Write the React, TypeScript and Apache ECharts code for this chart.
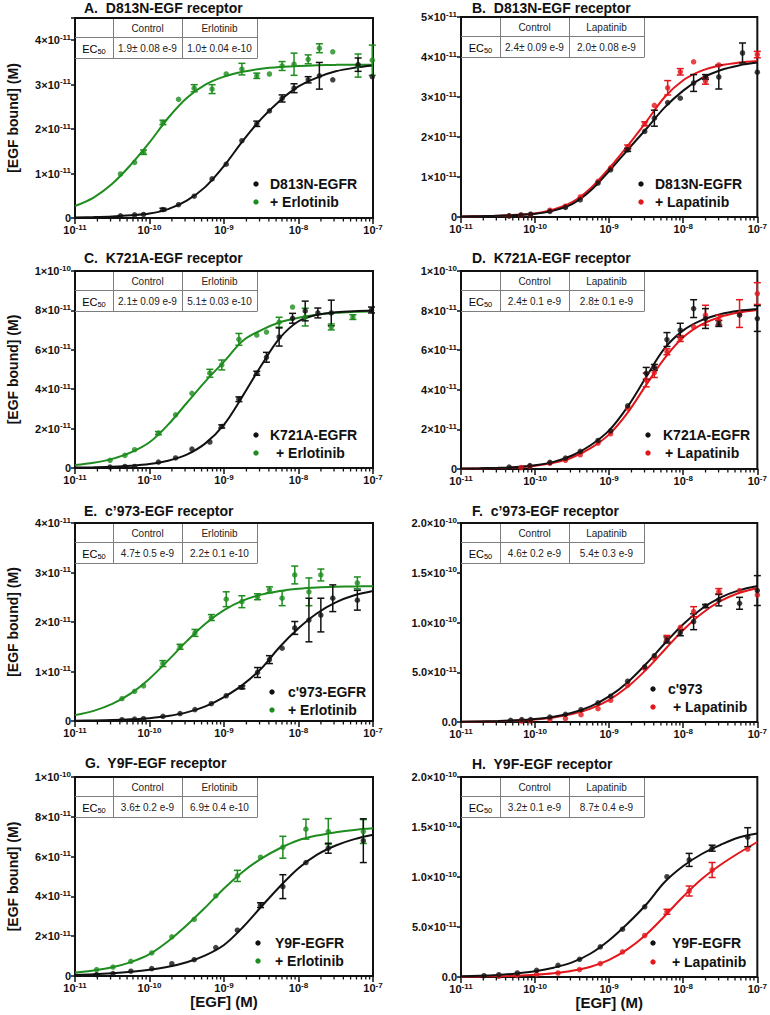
import React, { useEffect, useRef } from "react";
import * as echarts from "echarts";

const FONT = "'Liberation Sans', Arial, Helvetica, sans-serif";
const INK = "#111111";
const GREEN = "#1e8c1e";
const RED = "#e3161b";

// ---------- texts ----------
const TITLES = [
  "A.  D813N-EGF receptor",
  "B.  D813N-EGF receptor",
  "C.  K721A-EGF receptor",
  "D.  K721A-EGF receptor",
  "E.  c\u2019973-EGF receptor",
  "F.  c\u2019973-EGF receptor",
  "G.  Y9F-EGF receptor",
  "H.  Y9F-EGF receptor",
];
const CONTROL_NAMES = ["D813N-EGFR", "D813N-EGFR", "K721A-EGFR", "K721A-EGFR", "c'973-EGFR", "c'973", "Y9F-EGFR", "Y9F-EGFR"];
const DRUGS = ["Erlotinib", "Lapatinib", "Erlotinib", "Lapatinib", "Erlotinib", "Lapatinib", "Erlotinib", "Lapatinib"];
const EC50_CONTROL = ["1.9\u00b1 0.08 e-9", "2.4\u00b1 0.09 e-9", "2.1\u00b1 0.09 e-9", "2.4\u00b1 0.1 e-9", "4.7\u00b1 0.5 e-9", "4.6\u00b1 0.2 e-9", "3.6\u00b1 0.2 e-9", "3.2\u00b1 0.1 e-9"];
const EC50_DRUG = ["1.0\u00b1 0.04 e-10", "2.0\u00b1 0.08 e-9", "5.1\u00b1 0.03 e-10", "2.8\u00b1 0.1 e-9", "2.2\u00b1 0.1 e-10", "5.4\u00b1 0.3 e-9", "6.9\u00b1 0.4 e-10", "8.7\u00b1 0.4 e-9"];

// ---------- axes (x: log10 [EGF] M, y: EGF bound in pM) ----------
const X_MIN = -11;
const X_MAX = -7;
const Y_MAX = [45, 50, 100, 100, 40, 200, 100, 200];
const Y_STEP = [10, 10, 20, 20, 10, 50, 20, 50];
const Y_DECIMAL = [false, false, false, false, false, true, false, true];

// ---------- fitted curves, read at log10[EGF] = -11 ... -7 (0.25 steps), pM ----------
const CURVE_X = [-11, -10.75, -10.5, -10.25, -10, -9.75, -9.5, -9.25, -9, -8.75, -8.5, -8.25, -8, -7.75, -7.5, -7.25, -7];
const A_CURVE_CTRL = [0.1, 0.2, 0.35, 0.6, 1.0, 2.0, 3.9, 7.0, 11.7, 17.3, 22.3, 26.4, 29.6, 31.6, 33.0, 33.8, 34.3];
const A_CURVE_DRUG = [2.7, 4.6, 7.7, 12.0, 17.0, 22.5, 27.0, 30.0, 31.8, 32.9, 33.6, 34.0, 34.2, 34.35, 34.45, 34.5, 34.5];
const B_CURVE_CTRL = [0.1, 0.2, 0.3, 0.5, 0.8, 1.6, 3.2, 6.6, 11.5, 16.8, 22.0, 27.4, 31.6, 34.7, 36.7, 37.9, 38.6];
const B_CURVE_DRUG = [0.1, 0.2, 0.3, 0.55, 0.9, 1.9, 3.7, 7.2, 12.2, 17.8, 23.8, 30.0, 34.2, 36.6, 37.9, 38.6, 39.0];
const C_CURVE_CTRL = [0.2, 0.35, 0.6, 1.1, 2.0, 3.7, 6.8, 12.5, 22.0, 36.5, 52.0, 66.0, 74.5, 77.8, 79.0, 79.6, 79.9];
const C_CURVE_DRUG = [1.53, 2.68, 4.65, 7.9, 13.05, 22.0, 33.0, 44.0, 54.0, 64.5, 70.0, 74.0, 76.3, 77.8, 78.8, 79.3, 79.6];
const D_CURVE_CTRL = [0.2, 0.35, 0.6, 1.0, 1.9, 3.6, 6.8, 12.0, 19.5, 31.5, 46.5, 61.0, 70.0, 75.2, 78.2, 79.9, 80.8];
const D_CURVE_DRUG = [0.15, 0.3, 0.5, 0.85, 1.6, 3.1, 5.8, 10.5, 17.5, 28.5, 42.5, 56.0, 66.5, 73.0, 76.8, 79.0, 80.3];
const E_CURVE_CTRL = [0.06, 0.1, 0.18, 0.33, 0.58, 1.01, 1.74, 2.95, 4.84, 7.3, 10.6, 15.0, 18.74, 21.77, 23.96, 25.39, 26.27];
const E_CURVE_DRUG = [1.19, 2.05, 3.45, 5.58, 8.56, 12.24, 16.14, 19.66, 22.4, 24.31, 25.53, 26.28, 26.72, 26.97, 27.11, 27.19, 27.24];
const F_CURVE_CTRL = [0.31, 0.55, 0.98, 1.74, 3.06, 5.36, 9.25, 15.67, 25.67, 40.05, 58.49, 78.88, 98.14, 113.76, 124.94, 132.25, 136.75];
const F_CURVE_DRUG = [0.26, 0.47, 0.83, 1.47, 2.6, 4.55, 7.9, 13.46, 22.29, 35.33, 52.63, 72.63, 92.39, 109.06, 121.4, 129.62, 134.76];
const G_CURVE_CTRL = [0.6, 0.9, 1.4, 2.1, 3.1, 4.6, 6.9, 10.4, 15.6, 24.4, 34.8, 45.0, 54.2, 61.0, 65.6, 68.8, 71.0];
const G_CURVE_DRUG = [1.7, 2.8, 4.4, 7.0, 11.0, 17.5, 25.5, 34.5, 44.0, 52.3, 59.0, 64.2, 68.2, 70.6, 72.2, 73.4, 74.2];
const H_CURVE_CTRL = [0.8, 1.2, 2.1, 3.6, 5.8, 9.3, 14.6, 23.5, 36.8, 53.5, 72.5, 95.0, 111.0, 123.0, 132.0, 139.5, 143.5];
const H_CURVE_DRUG = [0.3, 0.5, 0.8, 1.3, 2.2, 3.7, 6.2, 10.3, 17.2, 27.8, 42.5, 61.0, 80.5, 98.0, 112.0, 124.0, 135.0];

// ---------- measured points: log10[EGF] (M), EGF bound (pM), error (pM) ----------
const A_X = [-10.39, -10.2, -10.08, -9.82, -9.61, -9.4, -9.16, -8.97, -8.76, -8.56, -8.39, -8.22, -8.06, -7.87, -7.72, -7.54, -7.2, -7.01];
const A_CTRL = [0.5, 0.7, 0.8, 1.9, 3.0, 4.9, 8.8, 12.1, 17.4, 21.2, 24.1, 26.9, 29.2, 31.1, 32.0, 31.1, 34.5, 31.8];
const A_CTRL_ERR = [0, 0, 0, 0.3, 0, 0, 0, 0, 0, 0.6, 0, 0.8, 1.0, 0.7, 3.0, 0, 1.5, 0];
const A_DRUG = [9.9, 12.5, 14.8, 21.5, 26.7, 29.2, 29.0, 32.4, 33.5, 32.0, 32.4, 34.2, 34.6, 35.7, 38.2, 37.4, 34.3, 35.5];
const A_DRUG_ERR = [0, 0, 0.5, 0.5, 0, 0.8, 1.0, 0, 1.3, 0.6, 0, 1.0, 2.5, 1.0, 1.0, 0, 2.6, 3.4];

const B_X = [-10.35, -10.19, -10.06, -9.8, -9.59, -9.39, -9.15, -8.98, -8.75, -8.52, -8.39, -8.21, -8.04, -7.86, -7.7, -7.52, -7.2, -7.0];
const B_CTRL = [0.3, 0.5, 0.7, 1.4, 2.4, 4.3, 8.5, 11.8, 16.8, 21.4, 24.7, 28.6, 29.7, 33.5, 35.0, 35.0, 41.0, 36.2];
const B_CTRL_ERR = [0, 0, 0, 0, 0, 0, 0, 0, 0.4, 0, 2.0, 0, 0, 2.1, 0.6, 3.0, 2.5, 0];
const B_DRUG = [0.25, 0.4, 0.6, 1.7, 2.7, 5.0, 8.9, 12.3, 17.5, 23.3, 27.9, 32.3, 36.3, 38.8, 34.0, 38.0, null, 40.6];
const B_DRUG_ERR = [0, 0, 0, 0, 0, 0, 0, 0, 0.5, 0.5, 0, 1.8, 0.8, 0, 0.8, 0, 0, 0.8];

const C_X = [-10.53, -10.33, -10.2, -9.88, -9.65, -9.43, -9.19, -9.03, -8.8, -8.56, -8.43, -8.26, -8.08, -7.91, -7.74, -7.56, -7.27, -7.02];
const C_CTRL = [0.5, 0.8, 0.8, 3.0, 5.1, 9.6, 13.2, 21.1, 34.9, 48.1, 56.2, 66.5, 76.0, 79.7, 78.7, 78.7, null, 80.2];
const C_CTRL_ERR = [0, 0, 0, 0, 0, 0, 0, 0.8, 1.2, 1.0, 2.5, 4.6, 2.5, 5.0, 2.5, 6.5, 0, 1.5];
const C_DRUG = [3.9, 6.4, 9.3, 17.7, 27.0, 37.9, 48.1, 52.3, 65.3, 67.5, 69.0, 74.0, 81.7, 76.6, null, 71.6, 76.6, null];
const C_DRUG_ERR = [0, 0, 0, 0.8, 0, 0, 2.0, 2.5, 3.0, 0, 0, 2.5, 0, 4.5, 0, 1.5, 1.2, 0];

const D_X = [-10.35, -10.19, -10.07, -9.8, -9.59, -9.39, -9.15, -8.98, -8.75, -8.5, -8.39, -8.22, -8.04, -7.86, -7.7, -7.52, -7.24, -7.0];
const D_CTRL = [1.0, null, 1.7, 3.4, 5.5, 8.9, 14.4, 19.3, 31.9, 48.3, 51.3, 65.4, 70.1, 81.0, 76.0, 73.5, 77.7, 76.0];
const D_CTRL_ERR = [0, 0, 0, 0, 0, 0, 0, 0, 0, 3.0, 1.5, 3.5, 3.5, 4.5, 5.0, 1.5, 0, 6.5];
const D_DRUG = [null, 0.7, 1.3, 2.9, 4.4, 7.2, 13.1, 17.8, 30.7, 45.0, 48.7, 59.2, 65.9, 71.8, 77.7, 75.2, 78.5, 88.6];
const D_DRUG_ERR = [0, 0, 0, 0, 0, 0, 0, 0, 0, 3.5, 2.5, 1.5, 1.5, 0, 5.0, 2.5, 7.0, 5.5];

const E_X = [-10.37, -10.2, -10.08, -9.82, -9.59, -9.39, -9.17, -8.97, -8.76, -8.55, -8.39, -8.22, -8.05, -7.86, -7.7, -7.54, -7.21];
const E_CTRL = [0.27, 0.4, 0.47, 0.95, 1.5, 2.3, 3.5, 5.1, 6.8, 9.8, 12.4, 14.7, 18.8, 20.4, 21.4, 24.8, 24.4];
const E_CTRL_ERR = [0, 0, 0, 0, 0, 0, 0, 0, 0.3, 1.0, 0.8, 0, 1.3, 4.4, 3.4, 2.7, 2.0];
const E_DRUG = [4.5, 6.0, 7.1, 11.6, 15.0, 17.8, 20.9, 24.6, 24.1, 25.1, 26.5, 24.8, 29.5, 26.1, 29.5, null, 27.9];
const E_DRUG_ERR = [0, 0, 0, 0.6, 0.5, 0.7, 0.6, 1.5, 1.2, 0.6, 0.6, 1.5, 1.8, 2.8, 1.2, 0, 1.2];

const F_X = [-10.33, -10.18, -10.06, -9.8, -9.59, -9.38, -9.15, -8.98, -8.75, -8.52, -8.39, -8.22, -8.04, -7.86, -7.7, -7.52, -7.24, -7.0];
const F_CTRL = [1.7, 2.4, 2.4, 5.0, 7.7, 12.4, 19.2, 25.9, 41.0, 55.5, 66.6, 82.4, 89.7, 100.8, 116.6, 122.7, 119.3, 132.1];
const F_CTRL_ERR = [0, 0, 0, 0, 0, 0, 0, 0, 0, 0, 0, 3, 3, 8, 1.5, 6, 6, 15];
const F_DRUG = [null, 1.0, 1.0, 2.4, 3.4, 7.4, 13.4, 21.8, 37.0, 53.8, 63.9, 84.0, 95.1, 110.9, null, 131.1, 132.1, 127.7];
const F_DRUG_ERR = [0, 0, 0, 0, 0, 0, 0, 0, 0, 0, 0, 3, 0, 5, 0, 3, 0, 0];

const G_X = [-10.71, -10.49, -10.25, -9.97, -9.7, -9.4, -9.11, -8.82, -8.51, -8.21, -7.9, -7.6, -7.13];
const G_CTRL = [0.7, 1.2, 2.4, 3.7, 6.2, 8.2, 14.3, 23.0, 35.6, 44.9, 57.0, 64.2, 68.0];
const G_CTRL_ERR = [0, 0, 0, 0, 0, 0, 0, 0, 1.2, 6.0, 0, 2.5, 11];
const G_DRUG = [3.2, 4.5, 7.4, 11.6, 19.7, 28.4, 40.3, 50.3, 59.7, 64.7, 73.8, 72.6, 72.6];
const G_DRUG_ERR = [0, 0, 0, 0, 0, 0, 0, 2.8, 0, 5.5, 5.0, 6.5, 6.0];

const H_X = [-10.69, -10.49, -10.24, -9.98, -9.69, -9.4, -9.12, -8.82, -8.52, -8.22, -7.92, -7.61, -7.13];
const H_CTRL = [1.3, 2.3, 4.0, 6.7, 11.7, 17.7, 30.1, 47.8, 70.2, 100.3, 117.1, 128.8, 139.8];
const H_CTRL_ERR = [0, 0, 0, 0, 0, 0, 0, 0, 0, 0, 6.5, 3, 9.5];
const H_DRUG = [null, 0.7, 1.3, 2.7, 4.0, 7.4, 13.4, 25.1, 41.5, 65.2, 86.0, 107.0, 127.8];
const H_DRUG_ERR = [0, 0, 0, 0, 0, 0, 0, 0, 0, 2.5, 5, 7.5, 0];

const PANELS = [
  { x: A_X, ctrl: A_CTRL, ctrlErr: A_CTRL_ERR, drug: A_DRUG, drugErr: A_DRUG_ERR, cCtrl: A_CURVE_CTRL, cDrug: A_CURVE_DRUG },
  { x: B_X, ctrl: B_CTRL, ctrlErr: B_CTRL_ERR, drug: B_DRUG, drugErr: B_DRUG_ERR, cCtrl: B_CURVE_CTRL, cDrug: B_CURVE_DRUG },
  { x: C_X, ctrl: C_CTRL, ctrlErr: C_CTRL_ERR, drug: C_DRUG, drugErr: C_DRUG_ERR, cCtrl: C_CURVE_CTRL, cDrug: C_CURVE_DRUG },
  { x: D_X, ctrl: D_CTRL, ctrlErr: D_CTRL_ERR, drug: D_DRUG, drugErr: D_DRUG_ERR, cCtrl: D_CURVE_CTRL, cDrug: D_CURVE_DRUG },
  { x: E_X, ctrl: E_CTRL, ctrlErr: E_CTRL_ERR, drug: E_DRUG, drugErr: E_DRUG_ERR, cCtrl: E_CURVE_CTRL, cDrug: E_CURVE_DRUG },
  { x: F_X, ctrl: F_CTRL, ctrlErr: F_CTRL_ERR, drug: F_DRUG, drugErr: F_DRUG_ERR, cCtrl: F_CURVE_CTRL, cDrug: F_CURVE_DRUG },
  { x: G_X, ctrl: G_CTRL, ctrlErr: G_CTRL_ERR, drug: G_DRUG, drugErr: G_DRUG_ERR, cCtrl: G_CURVE_CTRL, cDrug: G_CURVE_DRUG },
  { x: H_X, ctrl: H_CTRL, ctrlErr: H_CTRL_ERR, drug: H_DRUG, drugErr: H_DRUG_ERR, cCtrl: H_CURVE_CTRL, cDrug: H_CURVE_DRUG },
];

// ---------- layout (pixels) ----------
const LAYOUT = [
  { left: 75, top: 18, width: 298, height: 200, title: [84, 8], leg: [256, 270, 270, 184, 202] },
  { left: 461, top: 17, width: 300, height: 200, title: [472, 8], leg: [641, 655, 655, 184, 202] },
  { left: 75, top: 271, width: 298, height: 197, title: [84, 258], leg: [256, 270, 276, 435, 453] },
  { left: 461, top: 271, width: 300, height: 198, title: [472, 258], leg: [648, 663, 665, 435, 453] },
  { left: 75, top: 523, width: 298, height: 198, title: [84, 511], leg: [272, 288, 288, 692, 710] },
  { left: 461, top: 523, width: 300, height: 199, title: [472, 511], leg: [653, 668, 673, 689, 707] },
  { left: 75, top: 777, width: 298, height: 199, title: [85, 763], leg: [258, 275, 275, 943, 961] },
  { left: 461, top: 777, width: 300, height: 200, title: [472, 764], leg: [653, 672, 672, 943, 962] },
];
const TABLE_COLS_L = [0, 38, 107, 182];
const TABLE_COLS_R = [0, 39, 108, 183];
const TABLE_ROWS = [0, 19, 40];

const RICH = {
  b: { fontFamily: FONT, fontSize: 11, fontWeight: "bold", color: INK, lineHeight: 14 },
  s: { fontFamily: FONT, fontSize: 8, fontWeight: "bold", color: INK, lineHeight: 7, verticalAlign: "top" },
};

function yFormatter(step: number, dec: boolean) {
  return (v: number) => {
    if (Math.abs(v % step) > 1e-9) return "";
    if (Math.abs(v) < 1e-9) return dec ? "{b|0.0}" : "{b|0}";
    const m = v * 1e-12;
    const e = Math.floor(Math.log10(m) + 1e-9);
    const mant = m / Math.pow(10, e);
    return `{b|${dec ? mant.toFixed(1) : Math.round(mant)}\u00d710}{s|${e}}`;
  };
}

function errSeries(p: number, xs: number[], ys: (number | null)[], es: number[], color: string) {
  const data: number[][] = [];
  xs.forEach((x, i) => {
    const y = ys[i];
    if (y != null && es[i] > 0) data.push([x, y, es[i]]);
  });
  return {
    type: "custom",
    xAxisIndex: p,
    yAxisIndex: p,
    silent: true,
    z: 3,
    encode: { x: 0, y: 1 },
    data,
    renderItem: (params: any, api: any) => {
      const x = api.value(0);
      const y = api.value(1);
      const e = api.value(2);
      const a = api.coord([x, y + e]);
      const b = api.coord([x, y - e]);
      const st = { stroke: color, lineWidth: 1.5 };
      return {
        type: "group",
        children: [
          { type: "line", shape: { x1: a[0], y1: a[1], x2: b[0], y2: b[1] }, style: st },
          { type: "line", shape: { x1: a[0] - 3.5, y1: a[1], x2: a[0] + 3.5, y2: a[1] }, style: st },
          { type: "line", shape: { x1: b[0] - 3.5, y1: b[1], x2: b[0] + 3.5, y2: b[1] }, style: st },
        ],
      };
    },
  };
}

function buildOption() {
  const grid: any[] = [];
  const xAxis: any[] = [];
  const yAxis: any[] = [];
  const series: any[] = [];
  const graphic: any[] = [];

  // minor tick positions of the log axis (2..9 within each decade)
  const minor: number[][] = [];
  for (let d = X_MIN; d < X_MAX; d++) for (let k = 2; k <= 9; k++) minor.push([d + Math.log10(k), 0]);

  PANELS.forEach((P, p) => {
    const L = LAYOUT[p];
    const isLeft = p % 2 === 0;
    const isBottom = p >= 6;
    const drugColor = DRUGS[p] === "Erlotinib" ? GREEN : RED;

    grid.push({ left: L.left, top: L.top, width: L.width, height: L.height, show: true, borderColor: INK, borderWidth: 2, backgroundColor: "transparent" });

    xAxis.push({
      type: "value",
      gridIndex: p,
      min: X_MIN,
      max: X_MAX,
      interval: 1,
      splitLine: { show: false },
      axisLine: { show: true, lineStyle: { color: INK, width: 2 } },
      axisTick: { show: true, length: 6, lineStyle: { color: INK, width: 1.5 } },
      axisLabel: { margin: 5, formatter: (v: number) => `{b|10}{s|${v}}`, rich: RICH },
      name: isBottom ? "[EGF] (M)" : "",
      nameLocation: "middle",
      nameGap: 14,
      nameTextStyle: { fontFamily: FONT, fontSize: 15, fontWeight: "bold", color: INK, verticalAlign: "top" },
    });

    yAxis.push({
      type: "value",
      gridIndex: p,
      min: 0,
      max: Y_MAX[p],
      interval: Y_STEP[p],
      splitLine: { show: false },
      axisLine: { show: true, lineStyle: { color: INK, width: 2 } },
      axisTick: { show: true, length: 4, lineStyle: { color: INK, width: 1.5 } },
      axisLabel: { margin: 4, formatter: yFormatter(Y_STEP[p], Y_DECIMAL[p]), rich: RICH },
      name: isLeft ? "[EGF bound] (M)" : "",
      nameLocation: "middle",
      nameGap: 55,
      nameRotate: 90,
      nameTextStyle: { fontFamily: FONT, fontSize: 14, fontWeight: "bold", color: INK },
    });

    // minor ticks
    series.push({
      type: "custom",
      xAxisIndex: p,
      yAxisIndex: p,
      silent: true,
      clip: false,
      z: 5,
      data: minor,
      renderItem: (params: any, api: any) => {
        const c = api.coord([api.value(0), 0]);
        return { type: "line", shape: { x1: c[0], y1: c[1], x2: c[0], y2: c[1] + 3.5 }, style: { stroke: INK, lineWidth: 1.3 } };
      },
    });

    // fitted curves
    series.push({
      type: "line",
      xAxisIndex: p,
      yAxisIndex: p,
      data: CURVE_X.map((x, i) => [x, P.cDrug[i]]),
      showSymbol: false,
      smooth: 0.35,
      silent: true,
      z: 2,
      lineStyle: { color: drugColor, width: 2 },
    });
    series.push({
      type: "line",
      xAxisIndex: p,
      yAxisIndex: p,
      data: CURVE_X.map((x, i) => [x, P.cCtrl[i]]),
      showSymbol: false,
      smooth: 0.35,
      silent: true,
      z: 2,
      lineStyle: { color: INK, width: 2 },
    });

    // error bars
    series.push(errSeries(p, P.x, P.drug, P.drugErr, drugColor));
    series.push(errSeries(p, P.x, P.ctrl, P.ctrlErr, INK));

    // points
    series.push({
      type: "scatter",
      xAxisIndex: p,
      yAxisIndex: p,
      symbolSize: 5.5,
      z: 4,
      silent: true,
      itemStyle: { color: drugColor },
      data: P.x.map((x, i) => (P.drug[i] == null ? null : [x, P.drug[i]])).filter(Boolean),
    });
    series.push({
      type: "scatter",
      xAxisIndex: p,
      yAxisIndex: p,
      symbolSize: 5.5,
      z: 4,
      silent: true,
      itemStyle: { color: INK },
      data: P.x.map((x, i) => (P.ctrl[i] == null ? null : [x, P.ctrl[i]])).filter(Boolean),
    });

    // title
    graphic.push({
      type: "text",
      x: L.title[0],
      y: L.title[1],
      z: 60,
      style: { text: TITLES[p], font: `bold 14px ${FONT}`, fill: INK, align: "left", verticalAlign: "middle", textAlign: "left", textVerticalAlign: "middle" },
    });

    // table
    const cols = isLeft ? TABLE_COLS_L : TABLE_COLS_R;
    const x0 = L.left;
    const y0 = L.top;
    const tw = cols[3];
    const th = TABLE_ROWS[2];
    const lineStyle = { stroke: "#7d7d7d", lineWidth: 1 };
    graphic.push({ type: "rect", z: 50, shape: { x: x0 + 1, y: y0 + 1, width: tw - 1, height: th - 1 }, style: { fill: "#ffffff" } });
    graphic.push({ type: "line", z: 51, shape: { x1: x0, y1: y0 + TABLE_ROWS[1] + 0.5, x2: x0 + tw, y2: y0 + TABLE_ROWS[1] + 0.5 }, style: lineStyle });
    graphic.push({ type: "line", z: 51, shape: { x1: x0, y1: y0 + th + 0.5, x2: x0 + tw + 0.5, y2: y0 + th + 0.5 }, style: lineStyle });
    for (let c = 1; c <= 3; c++) {
      graphic.push({ type: "line", z: 51, shape: { x1: x0 + cols[c] + 0.5, y1: y0 + 1, x2: x0 + cols[c] + 0.5, y2: y0 + th }, style: lineStyle });
    }
    const cellText = (txt: string, c: number, r: number) => ({
      type: "text",
      z: 52,
      x: x0 + (cols[c] + cols[c + 1]) / 2,
      y: y0 + (TABLE_ROWS[r] + TABLE_ROWS[r + 1]) / 2 + 0.5,
      style: { text: txt, font: `10px ${FONT}`, fill: "#222", align: "center", verticalAlign: "middle", textAlign: "center", textVerticalAlign: "middle" },
    });
    graphic.push(cellText("Control", 1, 0));
    graphic.push(cellText(DRUGS[p], 2, 0));
    graphic.push(cellText(EC50_CONTROL[p], 1, 1));
    graphic.push(cellText(EC50_DRUG[p], 2, 1));
    graphic.push({
      type: "text",
      z: 52,
      x: x0 + (cols[0] + cols[1]) / 2,
      y: y0 + (TABLE_ROWS[1] + TABLE_ROWS[2]) / 2 + 1,
      style: {
        text: "{e|EC}{u|50}",
        align: "center",
        verticalAlign: "middle",
        textAlign: "center",
        textVerticalAlign: "middle",
        rich: {
          e: { fontFamily: FONT, fontSize: 11, color: "#222", lineHeight: 14 },
          u: { fontFamily: FONT, fontSize: 7.5, color: "#222", lineHeight: 7, verticalAlign: "bottom" },
        },
      },
    });

    // legend
    const [dx, tx1, tx2, ly1, ly2] = L.leg;
    graphic.push({ type: "circle", z: 55, shape: { cx: dx, cy: ly1, r: 2.7 }, style: { fill: INK } });
    graphic.push({ type: "circle", z: 55, shape: { cx: dx, cy: ly2, r: 2.7 }, style: { fill: drugColor } });
    graphic.push({
      type: "text", z: 55, x: tx1, y: ly1,
      style: { text: CONTROL_NAMES[p], font: `bold 14px ${FONT}`, fill: INK, align: "left", verticalAlign: "middle", textAlign: "left", textVerticalAlign: "middle" },
    });
    graphic.push({
      type: "text", z: 55, x: tx2, y: ly2,
      style: { text: "+ " + DRUGS[p], font: `bold 14px ${FONT}`, fill: INK, align: "left", verticalAlign: "middle", textAlign: "left", textVerticalAlign: "middle" },
    });
  });

  return {
    animation: false,
    backgroundColor: "#ffffff",
    textStyle: { fontFamily: FONT },
    grid,
    xAxis,
    yAxis,
    series,
    graphic,
  };
}

export default function App() {
  const ref = useRef<HTMLDivElement>(null);
  useEffect(() => {
    document.body.style.margin = "0";
    const chart = echarts.init(ref.current as HTMLDivElement, null, { renderer: "svg" });
    chart.setOption(buildOption() as any);
    return () => chart.dispose();
  }, []);
  return <div ref={ref} style={{ width: 770, height: 1015, background: "#fff" }} />;
}
